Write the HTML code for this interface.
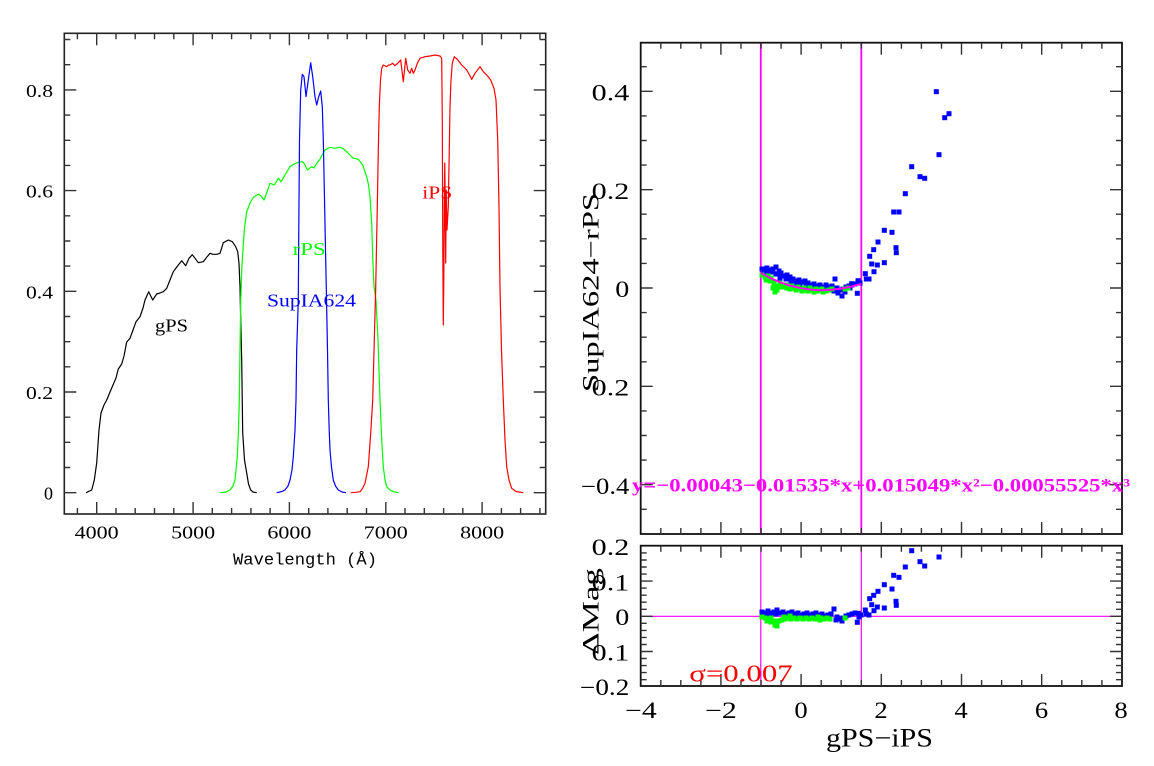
<!DOCTYPE html>
<html>
<head>
<meta charset="utf-8">
<style>
html,body{margin:0;padding:0;background:#fff;}
svg{display:block;}
text{font-family:"Liberation Serif","DejaVu Serif",serif;}
</style>
</head>
<body>
<svg width="1154" height="766" viewBox="0 0 1154 766" xmlns="http://www.w3.org/2000/svg">
<rect x="0" y="0" width="1154" height="766" fill="#fff"/>

<!-- ================= LEFT PLOT ================= -->
<g fill="none" stroke-linejoin="round">
<polyline stroke="#000" stroke-width="1.2" points="86,492.7 91.7,490 94.3,480 96.7,463 99,430 101,413 104,405 106.7,400 110,392 113,385 116,378 118.3,369 121.7,364 124,356 126.7,342 130,338.3 133,330 136,321.7 140,316.7 143,308 145,300 148.7,291.7 152.7,300 156.7,294 160,293 163.3,291.7 166.7,288.3 170,280 173.3,271.7 178.3,265 181.7,260.7 185.7,265.7 189,258.3 192.3,254.7 195,258.3 198.3,262.7 203.3,261.7 206.7,257.3 210,253.3 212.7,254.3 216.7,254.3 220,253.3 223.3,242.7 228.3,240 232.3,241.7 235.7,246.7 237.7,251.7 239,263.3 240,286.7 240.7,320 241.7,360 242.7,433 244.5,460 246.7,473 248.5,484 250.7,490 253,492 256.7,492.7"/>
<polyline stroke="#00ff00" stroke-width="1.2" points="220,492.7 226,492 230,490 233,486 235,480 237.3,456.7 238.5,430 239.3,400 240,350 240.7,300 242,265 243.3,245 244.5,228 246.7,212 250,203 253.3,197.5 258.3,194 261,196 264,200 267,192 270,183.3 274.3,185 278.3,178.3 281,181.7 285,175 290,166.7 294,164 298.3,162.3 302.7,161.7 305,165 307.3,170 311.7,166.7 314,168 316.7,163.3 320,159.3 322,155 325,150 330,147.3 335,148.3 340,147.3 343,148.5 346.7,151.7 350,155 353.3,158.3 358.3,159.3 362.7,165 366.7,176.7 368.5,185 370,196.7 371.7,223.3 372.7,256.7 374,286.7 376,300 378,340 380,400 382,445 383.3,466.7 385,480 386.7,486.7 390,490 393.3,491.7 399,492.7"/>
<polyline stroke="#0000ff" stroke-width="1.2" points="276.7,492.7 282,491.5 285,490 288,486 290,480 292,470 293.3,456.7 295,430 296,400 296.7,350 298.3,300 299,200 299.5,140 300.7,90 302.3,74.3 304,76.7 306,96.7 308.3,80 310.7,62.7 312.7,76.7 315,96.7 316.7,105 318.7,96.7 320.7,91 322.3,106.7 323.3,140 324,173.3 325.3,240 326.3,288.3 327.5,350 328.3,400 329.2,430 330,450 331.5,467 333.3,480 335.5,486 338.3,490 342,492 346,492.7"/>
<polyline stroke="#ff0000" stroke-width="1.2" points="350.7,492.7 356,492.3 360,491.7 362.5,488.5 365,483.3 368.3,466.7 370.7,433.3 372.7,400 374.3,340 375.7,288.3 377.3,206.7 378.3,150 379.3,106.7 380.5,80 381.7,68.3 383.3,65 386.7,66.7 388.5,65 390,65 392.7,63.3 395,65.7 398.3,62.7 400.7,60 403.3,81.7 405.7,58.3 407.7,70 410,73.3 411.7,68.3 413.3,73.3 415,70 417.3,63.3 420,58.3 425,56.7 430,56 435,55 440,56 441.7,58.3 442.3,120 442.8,250 443.3,325 443.8,280 444.3,200 444.8,163 445.3,220 445.7,263 446.2,190 447,230 448.3,206.7 450,106.7 451,80 452.3,63.3 454.3,56.7 457.3,59.3 461.7,65 466.7,70 469,74 471.7,79.3 475,73.3 480,66.7 483.3,71.7 486.7,75 490.7,80 494,88.3 496,100 497.7,140 499,206.7 500,288.3 501.5,350 503.3,400 505,440 506.7,466.7 509,480 511.7,488.3 516,491.5 523.3,492.7"/>
</g>

<!-- left frame -->
<rect x="64.3" y="33.3" width="481.4" height="480.7" fill="none" stroke="#222" stroke-width="1.6"/>
<!-- left ticks -->
<path fill="none" stroke="#333" stroke-width="1.4" d="
M77.4 514v-6 M96.7 514v-12 M116 514v-6 M135.2 514v-6 M154.5 514v-6 M173.8 514v-6 M193.1 514v-12 M212.3 514v-6 M231.6 514v-6 M250.9 514v-6 M270.1 514v-6 M289.4 514v-12 M308.7 514v-6 M327.9 514v-6 M347.2 514v-6 M366.5 514v-6 M385.8 514v-12 M405 514v-6 M424.3 514v-6 M443.6 514v-6 M462.8 514v-6 M482.1 514v-12 M501.4 514v-6 M520.6 514v-6 M539.9 514v-6
M77.4 33.3v6 M96.7 33.3v12 M116 33.3v6 M135.2 33.3v6 M154.5 33.3v6 M173.8 33.3v6 M193.1 33.3v12 M212.3 33.3v6 M231.6 33.3v6 M250.9 33.3v6 M270.1 33.3v6 M289.4 33.3v12 M308.7 33.3v6 M327.9 33.3v6 M347.2 33.3v6 M366.5 33.3v6 M385.8 33.3v12 M405 33.3v6 M424.3 33.3v6 M443.6 33.3v6 M462.8 33.3v6 M482.1 33.3v12 M501.4 33.3v6 M520.6 33.3v6 M539.9 33.3v6
M64.3 492.7h12 M64.3 467.5h6 M64.3 442.3h6 M64.3 417.2h6 M64.3 392h12 M64.3 366.8h6 M64.3 341.7h6 M64.3 316.5h6 M64.3 291.3h12 M64.3 266.1h6 M64.3 241h6 M64.3 215.8h6 M64.3 190.6h12 M64.3 165.4h6 M64.3 140.3h6 M64.3 115.1h6 M64.3 89.9h12 M64.3 64.7h6 M64.3 39.5h6
M545.7 492.7h-12 M545.7 467.5h-6 M545.7 442.3h-6 M545.7 417.2h-6 M545.7 392h-12 M545.7 366.8h-6 M545.7 341.7h-6 M545.7 316.5h-6 M545.7 291.3h-12 M545.7 266.1h-6 M545.7 241h-6 M545.7 215.8h-6 M545.7 190.6h-12 M545.7 165.4h-6 M545.7 140.3h-6 M545.7 115.1h-6 M545.7 89.9h-12 M545.7 64.7h-6 M545.7 39.5h-6"/>
<!-- left tick labels -->
<g font-size="18" fill="#000" text-anchor="end">
<text x="53" y="499.5" textLength="9" lengthAdjust="spacingAndGlyphs">0</text>
<text x="53" y="399" textLength="27" lengthAdjust="spacingAndGlyphs">0.2</text>
<text x="53" y="298.3" textLength="27" lengthAdjust="spacingAndGlyphs">0.4</text>
<text x="53" y="197.6" textLength="27" lengthAdjust="spacingAndGlyphs">0.6</text>
<text x="53" y="96.9" textLength="27" lengthAdjust="spacingAndGlyphs">0.8</text>
</g>
<g font-size="18" fill="#000" text-anchor="middle">
<text x="96.7" y="538.5" textLength="44" lengthAdjust="spacingAndGlyphs">4000</text>
<text x="193.1" y="538.5" textLength="44" lengthAdjust="spacingAndGlyphs">5000</text>
<text x="289.4" y="538.5" textLength="44" lengthAdjust="spacingAndGlyphs">6000</text>
<text x="385.8" y="538.5" textLength="44" lengthAdjust="spacingAndGlyphs">7000</text>
<text x="482.1" y="538.5" textLength="44" lengthAdjust="spacingAndGlyphs">8000</text>
</g>
<text x="233" y="564.5" style="font-family:'Liberation Mono','DejaVu Sans Mono',monospace;" font-size="17" textLength="144" lengthAdjust="spacingAndGlyphs" fill="#000">Wavelength (Å)</text>
<!-- curve labels -->
<text x="155" y="331.7" font-size="18" fill="#000" textLength="33" lengthAdjust="spacingAndGlyphs">gPS</text>
<text x="292.7" y="255" font-size="18" fill="#00ff00" textLength="33" lengthAdjust="spacingAndGlyphs">rPS</text>
<text x="267" y="306.5" font-size="18" fill="#0000ff" textLength="89" lengthAdjust="spacingAndGlyphs">SupIA624</text>
<text x="422.3" y="198.3" font-size="18" fill="#ff0000" textLength="30" lengthAdjust="spacingAndGlyphs">iPS</text>

<!-- ================= RIGHT PLOT ================= -->
<!-- magenta vertical lines -->
<path stroke="#ff00ff" stroke-width="1.8" fill="none" d="M760.8 42.7V534 M861.3 42.7V534"/>
<path stroke="#ff00ff" stroke-width="1.2" fill="none" d="M760.8 545.7V686 M861.3 545.7V686 M640.7 616.3H1122"/>

<!-- top panel blue points -->
<g fill="#0000ff">
<rect x="933.8" y="89.2" width="5" height="5"/><rect x="946.5" y="111.2" width="5" height="5"/><rect x="942.2" y="115.2" width="5" height="5"/><rect x="936.5" y="152.2" width="5" height="5"/><rect x="909.2" y="164.2" width="5" height="5"/><rect x="917.5" y="174.2" width="5" height="5"/><rect x="922.2" y="175.8" width="5" height="5"/><rect x="902.8" y="191.2" width="5" height="5"/><rect x="891.2" y="209.5" width="5" height="5"/><rect x="896.5" y="209.5" width="5" height="5"/><rect x="881.8" y="227.8" width="5" height="5"/><rect x="889.5" y="229.8" width="5" height="5"/><rect x="875.5" y="239.5" width="5" height="5"/><rect x="893.5" y="245.2" width="5" height="5"/><rect x="893.8" y="250.2" width="5" height="5"/><rect x="871.2" y="247.2" width="5" height="5"/><rect x="867.2" y="253.8" width="5" height="5"/><rect x="869.2" y="261.5" width="5" height="5"/><rect x="874.8" y="262.5" width="5" height="5"/><rect x="881.8" y="260.2" width="5" height="5"/><rect x="871.5" y="269.2" width="5" height="5"/><rect x="862.8" y="271.2" width="5" height="5"/><rect x="863.8" y="276.5" width="5" height="5"/><rect x="866.5" y="276.5" width="5" height="5"/><rect x="855.8" y="278.2" width="5" height="5"/><rect x="849.2" y="281.2" width="5" height="5"/><rect x="854.8" y="290.8" width="5" height="5"/><rect x="847.5" y="285.5" width="5" height="5"/>
<rect x="759.5" y="266.5" width="5" height="5"/><rect x="762.5" y="268.5" width="5" height="5"/><rect x="764.5" y="265.5" width="5" height="5"/><rect x="767.5" y="267.5" width="5" height="5"/><rect x="770.5" y="266.5" width="5" height="5"/><rect x="773.5" y="264.5" width="5" height="5"/><rect x="776.5" y="268.5" width="5" height="5"/><rect x="761.5" y="270.5" width="5" height="5"/><rect x="765.5" y="271.5" width="5" height="5"/><rect x="769.5" y="269.5" width="5" height="5"/><rect x="773.5" y="271.5" width="5" height="5"/><rect x="778.5" y="270.5" width="5" height="5"/><rect x="781.5" y="273.5" width="5" height="5"/><rect x="784.5" y="272.5" width="5" height="5"/><rect x="787.5" y="274.5" width="5" height="5"/><rect x="783.5" y="276.5" width="5" height="5"/><rect x="790.5" y="276.5" width="5" height="5"/><rect x="793.5" y="278.5" width="5" height="5"/><rect x="796.5" y="277.5" width="5" height="5"/><rect x="799.5" y="279.5" width="5" height="5"/><rect x="802.5" y="278.5" width="5" height="5"/><rect x="805.5" y="280.5" width="5" height="5"/><rect x="808.5" y="282.5" width="5" height="5"/><rect x="811.5" y="281.5" width="5" height="5"/><rect x="814.5" y="283.5" width="5" height="5"/><rect x="817.5" y="282.5" width="5" height="5"/><rect x="820.5" y="284.5" width="5" height="5"/><rect x="823.5" y="282.5" width="5" height="5"/><rect x="826.5" y="284.5" width="5" height="5"/><rect x="829.5" y="283.5" width="5" height="5"/><rect x="832.5" y="276.5" width="5" height="5"/><rect x="834.5" y="285.5" width="5" height="5"/><rect x="837.5" y="287.5" width="5" height="5"/><rect x="840.5" y="286.5" width="5" height="5"/><rect x="843.5" y="284.5" width="5" height="5"/><rect x="846.5" y="283.5" width="5" height="5"/><rect x="849.5" y="282.5" width="5" height="5"/><rect x="852.5" y="281.5" width="5" height="5"/><rect x="855.5" y="278.5" width="5" height="5"/><rect x="857.5" y="280.5" width="5" height="5"/><rect x="835.5" y="290.5" width="5" height="5"/><rect x="839.5" y="293.5" width="5" height="5"/><rect x="807.5" y="284.5" width="5" height="5"/><rect x="813.5" y="286.5" width="5" height="5"/><rect x="819.5" y="287.5" width="5" height="5"/><rect x="825.5" y="287.5" width="5" height="5"/><rect x="831.5" y="288.5" width="5" height="5"/><rect x="792.5" y="280.5" width="5" height="5"/><rect x="797.5" y="282.5" width="5" height="5"/><rect x="777.5" y="275.5" width="5" height="5"/><rect x="788.5" y="278.5" width="5" height="5"/><rect x="803.5" y="283.5" width="5" height="5"/><rect x="842.5" y="289.5" width="5" height="5"/>
</g>
<!-- top panel green points -->
<g fill="#00ff00">
<rect x="759.5" y="272.5" width="5" height="5"/><rect x="762.5" y="274.5" width="5" height="5"/><rect x="765.5" y="273.5" width="5" height="5"/><rect x="768.5" y="275.5" width="5" height="5"/><rect x="763.5" y="277.5" width="5" height="5"/><rect x="767.5" y="278.5" width="5" height="5"/><rect x="771.5" y="280.5" width="5" height="5"/><rect x="770.5" y="285.5" width="5" height="5"/><rect x="772.5" y="289.5" width="5" height="5"/><rect x="774.5" y="287.5" width="5" height="5"/><rect x="773.5" y="283.5" width="5" height="5"/><rect x="776.5" y="284.5" width="5" height="5"/><rect x="778.5" y="282.5" width="5" height="5"/><rect x="781.5" y="284.5" width="5" height="5"/><rect x="784.5" y="285.5" width="5" height="5"/><rect x="787.5" y="286.5" width="5" height="5"/><rect x="790.5" y="285.5" width="5" height="5"/><rect x="793.5" y="287.5" width="5" height="5"/><rect x="796.5" y="286.5" width="5" height="5"/><rect x="799.5" y="288.5" width="5" height="5"/><rect x="802.5" y="287.5" width="5" height="5"/><rect x="805.5" y="288.5" width="5" height="5"/><rect x="808.5" y="287.5" width="5" height="5"/><rect x="811.5" y="289.5" width="5" height="5"/><rect x="814.5" y="288.5" width="5" height="5"/><rect x="817.5" y="287.5" width="5" height="5"/><rect x="820.5" y="289.5" width="5" height="5"/><rect x="823.5" y="288.5" width="5" height="5"/><rect x="826.5" y="287.5" width="5" height="5"/><rect x="829.5" y="286.5" width="5" height="5"/><rect x="783.5" y="282.5" width="5" height="5"/><rect x="789.5" y="283.5" width="5" height="5"/><rect x="795.5" y="284.5" width="5" height="5"/><rect x="801.5" y="285.5" width="5" height="5"/><rect x="807.5" y="285.5" width="5" height="5"/><rect x="813.5" y="286.5" width="5" height="5"/><rect x="819.5" y="286.5" width="5" height="5"/><rect x="842.5" y="286.5" width="5" height="5"/><rect x="845.5" y="285.5" width="5" height="5"/><rect x="777.5" y="280.5" width="5" height="5"/>
</g>
<!-- fit curve -->
<polyline fill="none" stroke="#ff00ff" stroke-width="2" points="760.8,273 770.8,278.3 780.8,282.6 790.9,285.9 800.9,288.2 811,289.6 821,290.2 831.1,289.8 841.1,288.6 851.2,286.6 861.3,283.8"/>

<!-- bottom panel points -->
<g fill="#0000ff">
<rect x="909.2" y="548.2" width="5" height="5"/><rect x="936.5" y="554.5" width="5" height="5"/><rect x="917.5" y="559.2" width="5" height="5"/><rect x="922.2" y="563.5" width="5" height="5"/><rect x="902.8" y="564.5" width="5" height="5"/><rect x="891.2" y="572.8" width="5" height="5"/><rect x="896.5" y="574.8" width="5" height="5"/><rect x="881.8" y="582.2" width="5" height="5"/><rect x="889.5" y="586.5" width="5" height="5"/><rect x="875.5" y="588.8" width="5" height="5"/><rect x="871.2" y="592.8" width="5" height="5"/><rect x="867.2" y="596.2" width="5" height="5"/><rect x="893.5" y="598.8" width="5" height="5"/><rect x="893.8" y="602.8" width="5" height="5"/><rect x="869.2" y="602.2" width="5" height="5"/><rect x="874.8" y="604.5" width="5" height="5"/><rect x="881.8" y="605.5" width="5" height="5"/><rect x="862.8" y="607.5" width="5" height="5"/><rect x="871.5" y="608.2" width="5" height="5"/><rect x="863.8" y="611.5" width="5" height="5"/><rect x="866.5" y="612.5" width="5" height="5"/><rect x="855.8" y="610.8" width="5" height="5"/><rect x="854.8" y="619.8" width="5" height="5"/>
<rect x="759.5" y="609.5" width="5" height="5"/><rect x="762.5" y="610.5" width="5" height="5"/><rect x="765.5" y="608.5" width="5" height="5"/><rect x="768.5" y="610.5" width="5" height="5"/><rect x="771.5" y="609.5" width="5" height="5"/><rect x="774.5" y="607.5" width="5" height="5"/><rect x="777.5" y="610.5" width="5" height="5"/><rect x="780.5" y="609.5" width="5" height="5"/><rect x="783.5" y="611.5" width="5" height="5"/><rect x="786.5" y="610.5" width="5" height="5"/><rect x="789.5" y="609.5" width="5" height="5"/><rect x="792.5" y="611.5" width="5" height="5"/><rect x="795.5" y="610.5" width="5" height="5"/><rect x="798.5" y="612.5" width="5" height="5"/><rect x="801.5" y="611.5" width="5" height="5"/><rect x="804.5" y="610.5" width="5" height="5"/><rect x="807.5" y="612.5" width="5" height="5"/><rect x="810.5" y="611.5" width="5" height="5"/><rect x="813.5" y="610.5" width="5" height="5"/><rect x="816.5" y="612.5" width="5" height="5"/><rect x="819.5" y="611.5" width="5" height="5"/><rect x="822.5" y="613.5" width="5" height="5"/><rect x="825.5" y="612.5" width="5" height="5"/><rect x="828.5" y="611.5" width="5" height="5"/><rect x="831.5" y="606.5" width="5" height="5"/><rect x="834.5" y="614.5" width="5" height="5"/><rect x="837.5" y="616.5" width="5" height="5"/><rect x="840.5" y="615.5" width="5" height="5"/><rect x="843.5" y="613.5" width="5" height="5"/><rect x="846.5" y="612.5" width="5" height="5"/><rect x="849.5" y="611.5" width="5" height="5"/><rect x="852.5" y="610.5" width="5" height="5"/><rect x="856.5" y="614.5" width="5" height="5"/><rect x="761.5" y="612.5" width="5" height="5"/><rect x="767.5" y="613.5" width="5" height="5"/><rect x="773.5" y="611.5" width="5" height="5"/><rect x="787.5" y="613.5" width="5" height="5"/><rect x="797.5" y="614.5" width="5" height="5"/><rect x="809.5" y="614.5" width="5" height="5"/><rect x="821.5" y="615.5" width="5" height="5"/><rect x="833.5" y="617.5" width="5" height="5"/><rect x="839.5" y="618.5" width="5" height="5"/><rect x="858.5" y="612.5" width="5" height="5"/>
</g>
<g fill="#00ff00">
<rect x="759.5" y="614.5" width="5" height="5"/><rect x="762.5" y="615.5" width="5" height="5"/><rect x="765.5" y="616.5" width="5" height="5"/><rect x="768.5" y="615.5" width="5" height="5"/><rect x="764.5" y="618.5" width="5" height="5"/><rect x="768.5" y="619.5" width="5" height="5"/><rect x="771.5" y="618.5" width="5" height="5"/><rect x="772.5" y="622.5" width="5" height="5"/><rect x="774.5" y="623.5" width="5" height="5"/><rect x="773.5" y="620.5" width="5" height="5"/><rect x="776.5" y="618.5" width="5" height="5"/><rect x="779.5" y="617.5" width="5" height="5"/><rect x="782.5" y="616.5" width="5" height="5"/><rect x="785.5" y="615.5" width="5" height="5"/><rect x="788.5" y="616.5" width="5" height="5"/><rect x="791.5" y="615.5" width="5" height="5"/><rect x="794.5" y="616.5" width="5" height="5"/><rect x="797.5" y="615.5" width="5" height="5"/><rect x="800.5" y="616.5" width="5" height="5"/><rect x="803.5" y="615.5" width="5" height="5"/><rect x="806.5" y="616.5" width="5" height="5"/><rect x="809.5" y="615.5" width="5" height="5"/><rect x="812.5" y="616.5" width="5" height="5"/><rect x="815.5" y="614.5" width="5" height="5"/><rect x="818.5" y="615.5" width="5" height="5"/><rect x="821.5" y="616.5" width="5" height="5"/><rect x="824.5" y="615.5" width="5" height="5"/><rect x="827.5" y="616.5" width="5" height="5"/><rect x="781.5" y="614.5" width="5" height="5"/><rect x="787.5" y="613.5" width="5" height="5"/><rect x="817.5" y="617.5" width="5" height="5"/><rect x="842.5" y="615.5" width="5" height="5"/>
</g>

<!-- right frames -->
<rect x="640.7" y="42.7" width="481.3" height="491.3" fill="none" stroke="#111" stroke-width="1.8"/>
<rect x="640.7" y="545.7" width="481.3" height="140.3" fill="none" stroke="#111" stroke-width="1.8"/>
<!-- right ticks -->
<path fill="none" stroke="#333" stroke-width="1.4" d="
M660.8 42.7v6 M680.8 42.7v6 M700.9 42.7v6 M720.9 42.7v12 M741 42.7v6 M761.1 42.7v6 M781.1 42.7v6 M801.1 42.7v12 M821.2 42.7v6 M841.2 42.7v6 M861.3 42.7v6 M881.3 42.7v12 M901.4 42.7v6 M921.4 42.7v6 M941.5 42.7v6 M961.5 42.7v12 M981.6 42.7v6 M1001.6 42.7v6 M1021.7 42.7v6 M1041.7 42.7v12 M1061.8 42.7v6 M1081.8 42.7v6 M1101.9 42.7v6
M660.8 534v-6 M680.8 534v-6 M700.9 534v-6 M720.9 534v-12 M741 534v-6 M761.1 534v-6 M781.1 534v-6 M801.1 534v-12 M821.2 534v-6 M841.2 534v-6 M861.3 534v-6 M881.3 534v-12 M901.4 534v-6 M921.4 534v-6 M941.5 534v-6 M961.5 534v-12 M981.6 534v-6 M1001.6 534v-6 M1021.7 534v-6 M1041.7 534v-12 M1061.8 534v-6 M1081.8 534v-6 M1101.9 534v-6
M660.8 545.7v6 M680.8 545.7v6 M700.9 545.7v6 M720.9 545.7v12 M741 545.7v6 M761.1 545.7v6 M781.1 545.7v6 M801.1 545.7v12 M821.2 545.7v6 M841.2 545.7v6 M861.3 545.7v6 M881.3 545.7v12 M901.4 545.7v6 M921.4 545.7v6 M941.5 545.7v6 M961.5 545.7v12 M981.6 545.7v6 M1001.6 545.7v6 M1021.7 545.7v6 M1041.7 545.7v12 M1061.8 545.7v6 M1081.8 545.7v6 M1101.9 545.7v6
M660.8 686v-6 M680.8 686v-6 M700.9 686v-6 M720.9 686v-12 M741 686v-6 M761.1 686v-6 M781.1 686v-6 M801.1 686v-12 M821.2 686v-6 M841.2 686v-6 M861.3 686v-6 M881.3 686v-12 M901.4 686v-6 M921.4 686v-6 M941.5 686v-6 M961.5 686v-12 M981.6 686v-6 M1001.6 686v-6 M1021.7 686v-6 M1041.7 686v-12 M1061.8 686v-6 M1081.8 686v-6 M1101.9 686v-6
M640.7 66.7h6 M640.7 91.3h12 M640.7 115.9h6 M640.7 140.5h6 M640.7 165.1h6 M640.7 189.7h12 M640.7 214.2h6 M640.7 238.8h6 M640.7 263.4h6 M640.7 288h12 M640.7 312.6h6 M640.7 337.2h6 M640.7 361.8h6 M640.7 386.3h12 M640.7 410.9h6 M640.7 435.5h6 M640.7 460.1h6 M640.7 484.7h12 M640.7 509.3h6
M1122 66.7h-6 M1122 91.3h-12 M1122 115.9h-6 M1122 140.5h-6 M1122 165.1h-6 M1122 189.7h-12 M1122 214.2h-6 M1122 238.8h-6 M1122 263.4h-6 M1122 288h-12 M1122 312.6h-6 M1122 337.2h-6 M1122 361.8h-6 M1122 386.3h-12 M1122 410.9h-6 M1122 435.5h-6 M1122 460.1h-6 M1122 484.7h-12 M1122 509.3h-6
M640.7 552.9h6 M640.7 560h6 M640.7 567h6 M640.7 574.1h6 M640.7 581.1h12 M640.7 588.1h6 M640.7 595.2h6 M640.7 602.2h6 M640.7 609.3h6 M640.7 616.3h12 M640.7 623.3h6 M640.7 630.4h6 M640.7 637.4h6 M640.7 644.5h6 M640.7 651.5h12 M640.7 658.5h6 M640.7 665.6h6 M640.7 672.6h6 M640.7 679.7h6
M1122 552.9h-6 M1122 560h-6 M1122 567h-6 M1122 574.1h-6 M1122 581.1h-12 M1122 588.1h-6 M1122 595.2h-6 M1122 602.2h-6 M1122 609.3h-6 M1122 616.3h-12 M1122 623.3h-6 M1122 630.4h-6 M1122 637.4h-6 M1122 644.5h-6 M1122 651.5h-12 M1122 658.5h-6 M1122 665.6h-6 M1122 672.6h-6 M1122 679.7h-6"/>

<!-- right tick labels -->
<g font-size="23" fill="#000" text-anchor="end">
<text x="629.3" y="100.5" textLength="37.6" lengthAdjust="spacingAndGlyphs">0.4</text>
<text x="629.3" y="198.8" textLength="37.6" lengthAdjust="spacingAndGlyphs">0.2</text>
<text x="629.3" y="296.8" textLength="14" lengthAdjust="spacingAndGlyphs">0</text>
<text x="629.3" y="395.3" textLength="37.6" lengthAdjust="spacingAndGlyphs">0.2</text>
<text x="629.3" y="494" textLength="48.3" lengthAdjust="spacingAndGlyphs">−0.4</text>
<text x="629.3" y="555" textLength="37.6" lengthAdjust="spacingAndGlyphs">0.2</text>
<text x="629.3" y="590.3" textLength="37.6" lengthAdjust="spacingAndGlyphs">0.1</text>
<text x="629.3" y="625.2" textLength="14" lengthAdjust="spacingAndGlyphs">0</text>
<text x="629.3" y="660.5" textLength="37.6" lengthAdjust="spacingAndGlyphs">0.1</text>
<text x="629.3" y="695" textLength="49.3" lengthAdjust="spacingAndGlyphs">−0.2</text>
</g>
<g font-size="23" fill="#000" text-anchor="middle">
<text x="641" y="717.8" textLength="31.7" lengthAdjust="spacingAndGlyphs">−4</text>
<text x="721" y="717.8" textLength="31.7" lengthAdjust="spacingAndGlyphs">−2</text>
<text x="801" y="717.8" textLength="13.3" lengthAdjust="spacingAndGlyphs">0</text>
<text x="881" y="717.8" textLength="13.3" lengthAdjust="spacingAndGlyphs">2</text>
<text x="961" y="717.8" textLength="13.3" lengthAdjust="spacingAndGlyphs">4</text>
<text x="1041.5" y="717.8" textLength="13.3" lengthAdjust="spacingAndGlyphs">6</text>
<text x="1121" y="717.8" textLength="13.3" lengthAdjust="spacingAndGlyphs">8</text>
</g>
<!-- axis labels -->
<text x="826" y="746.5" font-size="26" fill="#000" textLength="107" lengthAdjust="spacingAndGlyphs">gPS−iPS</text>
<text transform="translate(598.5,392) rotate(-90)" x="0" y="0" font-size="23" fill="#000" textLength="199" lengthAdjust="spacingAndGlyphs">SupIA624−rPS</text>
<text transform="translate(598.5,655) rotate(-90)" x="0" y="0" font-size="23" fill="#000" textLength="87" lengthAdjust="spacingAndGlyphs">ΔMag</text>

<!-- annotations -->
<text x="632" y="491.7" font-size="19" font-weight="bold" fill="#ff00ff" textLength="498" lengthAdjust="spacingAndGlyphs">y=−0.00043−0.01535*x+0.015049*x²−0.00055525*x³</text>
<text x="689.3" y="681.7" font-size="24" fill="#ff0000" textLength="103.4" lengthAdjust="spacingAndGlyphs">σ=0.007</text>
</svg>
</body>
</html>
